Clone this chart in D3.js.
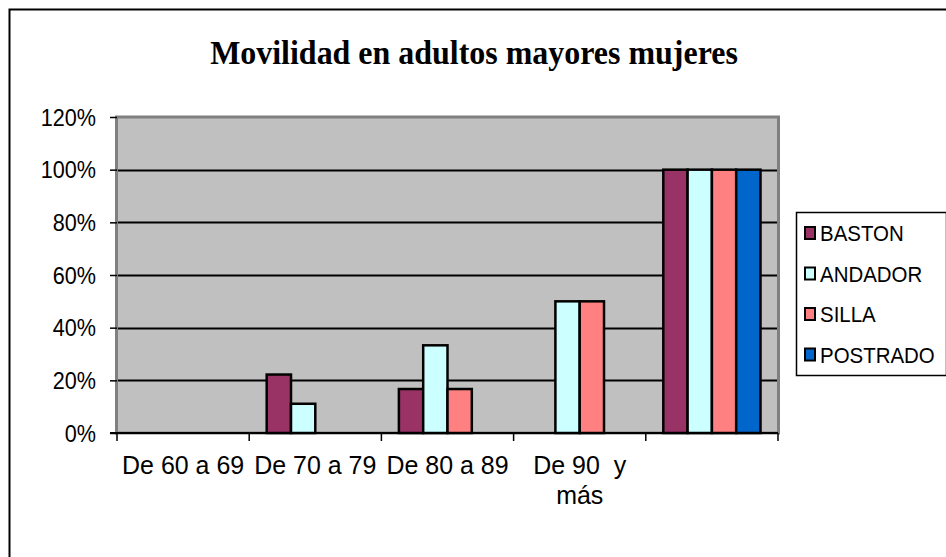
<!DOCTYPE html>
<html>
<head>
<meta charset="utf-8">
<script src="https://cdn.jsdelivr.net/npm/d3@7"></script>
<style>
  body { margin: 0; background: #fff; }
  svg { display: block; }
</style>
</head>
<body>
<div id="chart"></div>
<script>
// data
var categories = ["De 60 a 69", "De 70 a 79", "De 80 a 89", "De 90  y\nmás", ""];
var seriesNames = ["BASTON", "ANDADOR", "SILLA", "POSTRADO"];
var seriesColors = ["#993366", "#CCFFFF", "#FF8080", "#0066CC"];
var baston = [0, 0.222, 0.167, 0, 1];
var andador = [0, 0.111, 0.333, 0.5, 1];
var silla = [0, 0, 0.167, 0.5, 1];
var postrado = [0, 0, 0, 0, 1];
var yTicks = [0, 0.2, 0.4, 0.6, 0.8, 1, 1.2];

var seriesValues = [baston, andador, silla, postrado];

var svgWidth = 946;
var svgHeight = 557;

var margin = { top: 117, left: 117 };
var width = 661;
var height = 316;

// the original text looks narrow and tall, so squeeze it a bit
var squeeze = 0.9;
var sans = "'Liberation Sans', Arial, sans-serif";

var svg = d3.select("#chart")
  .append("svg")
  .attr("width", svgWidth)
  .attr("height", svgHeight);

// outer chart border (runs off the right and bottom edge)
svg.append("rect")
  .attr("x", 9.5)
  .attr("y", 9.5)
  .attr("width", svgWidth + 20)
  .attr("height", svgHeight + 20)
  .attr("fill", "#fff")
  .attr("stroke", "#000")
  .attr("stroke-width", 2);

svg.append("text")
  .attr("transform", `translate(474, 64) scale(0.94, 1)`)
  .attr("text-anchor", "middle")
  .attr("font-family", "'Liberation Serif', 'Times New Roman', serif")
  .attr("font-weight", "bold")
  .attr("font-size", "34px")
  .text("Movilidad en adultos mayores mujeres");

var chartGroup = svg.append("g")
  .attr("transform", `translate(${margin.left}, ${margin.top})`);

var x0 = d3.scaleBand()
  .domain(d3.range(categories.length))
  .range([0, width])
  .paddingInner(0)
  .paddingOuter(0);

var x1 = d3.scaleBand()
  .domain(d3.range(seriesNames.length))
  .range([0, x0.bandwidth()])
  .paddingOuter(0.72)
  .paddingInner(0);

var y = d3.scaleLinear()
  .domain([0, 1.2])
  .range([height, 0]);

// plot background
chartGroup.append("rect")
  .attr("x", 0)
  .attr("y", 0)
  .attr("width", width)
  .attr("height", height)
  .attr("fill", "#C0C0C0");

// gridlines
chartGroup.append("g")
  .selectAll("line")
  .data(yTicks.filter(d => d > 0 && d < 1.2))
  .enter()
  .append("line")
  .attr("x1", 0)
  .attr("x2", width)
  .attr("y1", d => Math.round(y(d)) + 0.5)
  .attr("y2", d => Math.round(y(d)) + 0.5)
  .attr("stroke", "#000")
  .attr("stroke-width", 2);

// plot border (gray)
chartGroup.append("rect")
  .attr("x", -0.5)
  .attr("y", 0)
  .attr("width", width + 1)
  .attr("height", height)
  .attr("fill", "none")
  .attr("stroke", "#808080")
  .attr("stroke-width", 3);

// bars
var groups = chartGroup.append("g")
  .selectAll("g")
  .data(seriesValues)
  .enter()
  .append("g")
  .attr("fill", (d, i) => seriesColors[i]);

groups.each(function(vals, si) {
  d3.select(this).selectAll("rect")
    .data(vals.map((v, ci) => ({ v: v, ci: ci })).filter(d => d.v > 0))
    .enter()
    .append("rect")
    .attr("x", d => x0(d.ci) + x1(si))
    .attr("y", d => y(d.v))
    .attr("width", x1.bandwidth())
    .attr("height", d => height - y(d.v))
    .attr("stroke", "#000")
    .attr("stroke-width", 2.5);
});

// y axis
var leftAxis = d3.axisLeft(y)
  .tickValues(yTicks)
  .tickFormat(d3.format(".0%"))
  .tickSize(7)
  .tickPadding(0);

var yAxis = chartGroup.append("g")
  .call(leftAxis);
yAxis.select(".domain").remove();
yAxis.selectAll("line").attr("stroke", "#000").attr("stroke-width", 1.5);
yAxis.selectAll("text")
  .attr("x", null)
  .attr("dy", null)
  .attr("transform", `translate(-21, 8) scale(${squeeze}, 1)`)
  .attr("font-family", sans)
  .attr("font-size", "24px")
  .attr("fill", "#000");

// x axis
var xTickPos = d3.range(categories.length + 1).map(i => i * x0.bandwidth());
var xAxis = chartGroup.append("g")
  .attr("transform", `translate(0, ${height})`);
xAxis.append("line")
  .attr("x1", -7)
  .attr("x2", width)
  .attr("y1", 0)
  .attr("y2", 0)
  .attr("stroke", "#000")
  .attr("stroke-width", 2);
xAxis.selectAll(".tick")
  .data(xTickPos)
  .enter()
  .append("line")
  .attr("x1", d => d)
  .attr("x2", d => d)
  .attr("y1", 0)
  .attr("y2", 8)
  .attr("stroke", "#000")
  .attr("stroke-width", 1.5);

var xLabels = xAxis.selectAll(".xlabel")
  .data(categories)
  .enter()
  .append("text")
  .attr("text-anchor", "middle")
  .attr("font-family", sans)
  .attr("font-size", "26px")
  .attr("fill", "#000")
  .attr("transform", (d, i) => `translate(${x0(i) + x0.bandwidth() / 2}, 41) scale(0.96, 1)`);

xLabels.each(function(d) {
  var lines = d.split("\n");
  var t = d3.select(this);
  lines.forEach(function(line, li) {
    t.append("tspan")
      .attr("x", 0)
      .attr("y", li * 30)
      .attr("xml:space", "preserve")
      .style("white-space", "pre")
      .text(line);
  });
});

// legend
var legend = svg.append("g")
  .attr("transform", "translate(796, 212)");
legend.append("rect")
  .attr("x", 0.5)
  .attr("y", 0.5)
  .attr("width", 150)
  .attr("height", 163)
  .attr("fill", "#fff")
  .attr("stroke", "#000")
  .attr("stroke-width", 1.5);

var items = legend.selectAll(".item")
  .data(seriesNames)
  .enter()
  .append("g")
  .attr("transform", (d, i) => `translate(9, ${21 + i * 40.5})`);

items.append("rect")
  .attr("x", 0)
  .attr("y", -6)
  .attr("width", 10)
  .attr("height", 12)
  .attr("fill", (d, i) => seriesColors[i])
  .attr("stroke", "#000")
  .attr("stroke-width", 2);

items.append("text")
  .attr("transform", `translate(15, 8) scale(0.93, 1)`)
  .attr("font-family", sans)
  .attr("font-size", "22px")
  .attr("fill", "#000")
  .text(d => d);
</script>
</body>
</html>
